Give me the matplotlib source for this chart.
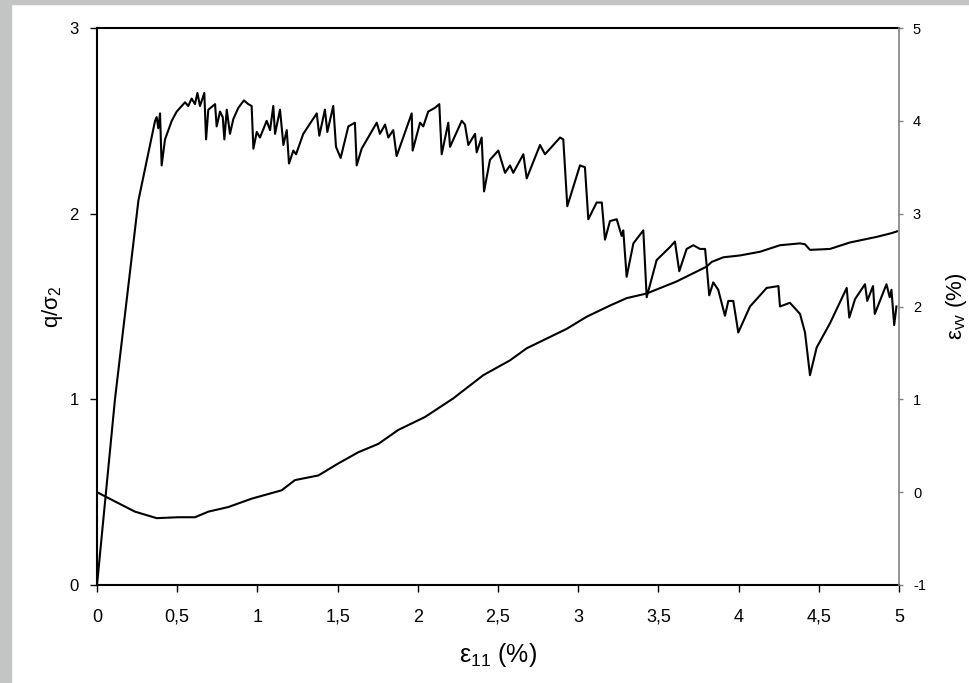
"""
plot.py - q/sigma2 and volumetric strain vs axial strain
"""
import matplotlib
matplotlib.use('Agg')
import matplotlib.pyplot as plt
from matplotlib.patches import Rectangle

plt.rcParams['font.family'] = 'Liberation Sans'
plt.rcParams['axes.unicode_minus'] = False
plt.rcParams['mathtext.fontset'] = 'custom'
plt.rcParams['mathtext.rm'] = 'Liberation Sans'
plt.rcParams['mathtext.it'] = 'Liberation Sans:italic'

# deviatoric stress ratio q/sigma2 (left axis)
q_x = [0, 0.112, 0.258, 0.362, 0.372, 0.382, 0.393, 0.403, 0.424, 0.466,
       0.497, 0.549, 0.569, 0.590, 0.611, 0.626, 0.642, 0.669, 0.680, 0.694,
       0.736, 0.746, 0.767, 0.784, 0.794, 0.809, 0.829, 0.850, 0.881, 0.916,
       0.943, 0.964, 0.975, 0.996, 1.016, 1.058, 1.079, 1.099, 1.110, 1.141,
       1.162, 1.183, 1.197, 1.224, 1.241, 1.286, 1.370, 1.386, 1.421, 1.436,
       1.473, 1.490, 1.519, 1.567, 1.608, 1.619, 1.650, 1.744, 1.764, 1.796,
       1.816, 1.847, 1.868, 1.962, 1.968, 2.014, 2.034, 2.065, 2.107, 2.134,
       2.149, 2.190, 2.201, 2.274, 2.294, 2.315, 2.357, 2.367, 2.398, 2.413,
       2.450, 2.502, 2.544, 2.575, 2.595, 2.658, 2.679, 2.762, 2.793, 2.887,
       2.907, 2.932, 3.011, 3.042, 3.063, 3.115, 3.147, 3.167, 3.198, 3.240,
       3.271, 3.281, 3.302, 3.344, 3.406, 3.427, 3.489, 3.572, 3.603, 3.630,
       3.676, 3.718, 3.759, 3.791, 3.801, 3.817, 3.842, 3.873, 3.915, 3.936,
       3.967, 3.998, 4.071, 4.175, 4.248, 4.258, 4.320, 4.383, 4.414, 4.445,
       4.487, 4.570, 4.674, 4.690, 4.726, 4.788, 4.802, 4.838, 4.849, 4.922,
       4.942, 4.953, 4.970, 4.984]
q_y = [0, 1.00, 2.07, 2.50, 2.52, 2.46, 2.54, 2.26, 2.40, 2.50,
       2.55, 2.60, 2.58, 2.62, 2.59, 2.65, 2.58, 2.65, 2.40, 2.56,
       2.59, 2.47, 2.55, 2.52, 2.40, 2.56, 2.43, 2.51, 2.57, 2.61,
       2.59, 2.58, 2.35, 2.44, 2.41, 2.50, 2.45, 2.58, 2.43, 2.56,
       2.37, 2.45, 2.27, 2.34, 2.32, 2.43, 2.54, 2.42, 2.56, 2.44,
       2.58, 2.36, 2.30, 2.47, 2.49, 2.26, 2.35, 2.49, 2.43, 2.48,
       2.41, 2.45, 2.31, 2.54, 2.34, 2.49, 2.47, 2.55, 2.57, 2.59,
       2.32, 2.49, 2.36, 2.50, 2.48, 2.37, 2.43, 2.33, 2.41, 2.12,
       2.29, 2.34, 2.22, 2.26, 2.22, 2.32, 2.19, 2.37, 2.32, 2.41,
       2.40, 2.04, 2.26, 2.25, 1.97, 2.06, 2.06, 1.86, 1.96, 1.97,
       1.88, 1.91, 1.66, 1.84, 1.91, 1.55, 1.75, 1.82, 1.85, 1.69,
       1.81, 1.83, 1.81, 1.81, 1.72, 1.56, 1.63, 1.59, 1.45, 1.53,
       1.53, 1.36, 1.50, 1.60, 1.61, 1.50, 1.52, 1.46, 1.36, 1.13,
       1.28, 1.41, 1.60, 1.44, 1.54, 1.62, 1.53, 1.61, 1.46, 1.62,
       1.55, 1.59, 1.40, 1.50]

# volumetric strain (right axis, %)
ev_x = [0, 0.112, 0.237, 0.372, 0.507, 0.611, 0.694, 0.819, 0.964, 1.151,
        1.234, 1.380, 1.505, 1.629, 1.754, 1.878, 2.045, 2.221, 2.408, 2.575,
        2.679, 2.929, 3.053, 3.198, 3.302, 3.427, 3.614, 3.801, 3.832, 3.905,
        4.009, 4.134, 4.258, 4.383, 4.414, 4.445, 4.570, 4.695, 4.861, 4.953,
        4.989]
ev_y = [0, -0.10, -0.21, -0.28, -0.27, -0.27, -0.21, -0.16, -0.07, 0.02,
        0.13, 0.18, 0.31, 0.43, 0.52, 0.67, 0.81, 1.01, 1.26, 1.42,
        1.55, 1.76, 1.89, 2.01, 2.09, 2.14, 2.27, 2.43, 2.48, 2.53,
        2.55, 2.59, 2.66, 2.68, 2.67, 2.61, 2.62, 2.69, 2.75, 2.79,
        2.81]

x_ticks = [0, 0.5, 1, 1.5, 2, 2.5, 3, 3.5, 4, 4.5, 5]
x_labels = ['0', '0,5', '1', '1,5', '2', '2,5', '3', '3,5', '4', '4,5', '5']
q_ticks = [0, 1, 2, 3]
ev_ticks = [-1, 0, 1, 2, 3, 4, 5]

fig = plt.figure(figsize=(9.7, 6.83), dpi=100)
# grey page margins
fig.patches.append(Rectangle((0, 0), 11 / 970, 1, transform=fig.transFigure,
                             color='#c3c5c5', zorder=0))
fig.patches.append(Rectangle((0, 1 - 4 / 683), 1, 4 / 683, transform=fig.transFigure,
                             color='#c3c5c5', zorder=0))

ax = fig.add_axes([97 / 970, 1 - 585 / 683, 802 / 970, 557 / 683])
ax.plot(q_x, q_y, color='black', linewidth=1.5)
ax.set_xlim(0, 5)
ax.set_ylim(0, 3)
ax.set_xticks(x_ticks)
ax.set_xticklabels(x_labels)
ax.set_yticks(q_ticks)
ax.tick_params(axis='both', direction='out', length=5, width=1)
# baseline alignment keeps "0" and "0,5" on the same line
ax.tick_params(axis='x', labelsize=13, pad=21.6)
plt.setp(ax.get_xticklabels(), va='baseline')
ax.tick_params(axis='y', labelsize=12, pad=8)
ax.set_xlabel(r'$\mathregular{ε_{11}}$ (%)', fontsize=18, va='center')
ax.xaxis.set_label_coords(0.5, -0.1257)
ax.set_ylabel(r'q/$\mathregular{σ_2}$', fontsize=16, va='center')
ax.yaxis.set_label_coords(-0.056, 0.5)
for side in ['left', 'bottom', 'top']:
    ax.spines[side].set_linewidth(1.5)
ax.spines['right'].set_visible(False)

ax2 = ax.twinx()
ax2.plot(ev_x, ev_y, color='black', linewidth=1.5)
ax2.set_ylim(-1, 5)
ax2.set_yticks(ev_ticks)
ax2.tick_params(axis='y', direction='out', length=3, width=1, color='#808080',
                labelsize=10.5, pad=7)
ax2.spines['right'].set_color('#808080')
ax2.spines['right'].set_linewidth(1.2)
for side in ['left', 'bottom', 'top']:
    ax2.spines[side].set_visible(False)
ax2.set_ylabel(r'$\mathregular{ε_{vv}}$ (%)', fontsize=16, rotation=90,
               va='center')
ax2.yaxis.set_label_coords(1.0715, 0.5)

fig.savefig('out.png', dpi=100)
plt.close(fig)
